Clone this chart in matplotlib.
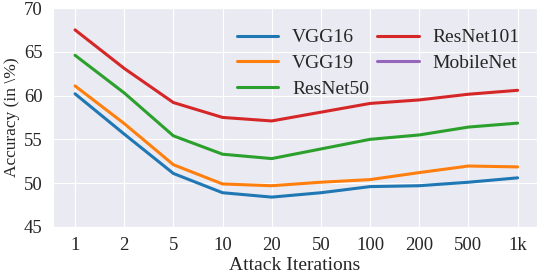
import numpy as np
import matplotlib
matplotlib.use("Agg")
import matplotlib.pyplot as plt
import seaborn as sns

iters = ["1", "2", "5", "10", "20", "50", "100", "200", "500", "1k"]
vgg16 = [60.2, 55.6, 51.1, 48.9, 48.4, 48.9, 49.6, 49.7, 50.1, 50.6]
vgg19 = [61.1, 56.8, 52.1, 49.9, 49.7, 50.1, 50.4, 51.2, 51.95, 51.85]
resnet50 = [64.6, 60.3, 55.4, 53.3, 52.8, 53.9, 55.0, 55.5, 56.4, 56.85]
resnet101 = [67.5, 63.1, 59.2, 57.5, 57.1, 58.1, 59.1, 59.5, 60.15, 60.6]
mobilenet = []

sns.set_style("darkgrid")
plt.rcParams['font.family'] = ['Liberation Serif', 'DejaVu Serif']

fig = plt.figure(figsize=(5.4, 2.76), dpi=100)
ax = fig.add_axes([0.098, 0.178, 0.896, 0.793])

x = np.arange(len(iters))
lw = 2.2
ax.plot(x, vgg16, color='#1f77b4', lw=lw, label='VGG16')
ax.plot(x, vgg19, color='#ff7f0e', lw=lw, label='VGG19')
ax.plot(x, resnet50, color='#2ca02c', lw=lw, label='ResNet50')
ax.plot(x, resnet101, color='#d62728', lw=lw, label='ResNet101')
ax.plot(x[:len(mobilenet)], mobilenet, color='#9467bd', lw=lw, label='MobileNet')

ax.set_xticks(x)
ax.set_xticklabels(iters)
ax.set_xlim(-0.45, 9.39)
ax.set_ylim(45, 70)
ax.set_yticks([45, 50, 55, 60, 65, 70])
ax.tick_params(labelsize=13.5, colors='#262626', pad=4)
ax.set_xlabel('Attack Iterations', fontsize=14, color='#262626', labelpad=2)
ax.set_ylabel(r'Accuracy (in \%)', fontsize=12.5, color='#262626', labelpad=3)

ax.legend(loc='upper right', ncol=2, frameon=False, fontsize=14,
          handlelength=2.15, handletextpad=0.7, columnspacing=0.4,
          labelspacing=0.42, bbox_to_anchor=(1.0, 0.985))

plt.savefig("out.png", dpi=100)
